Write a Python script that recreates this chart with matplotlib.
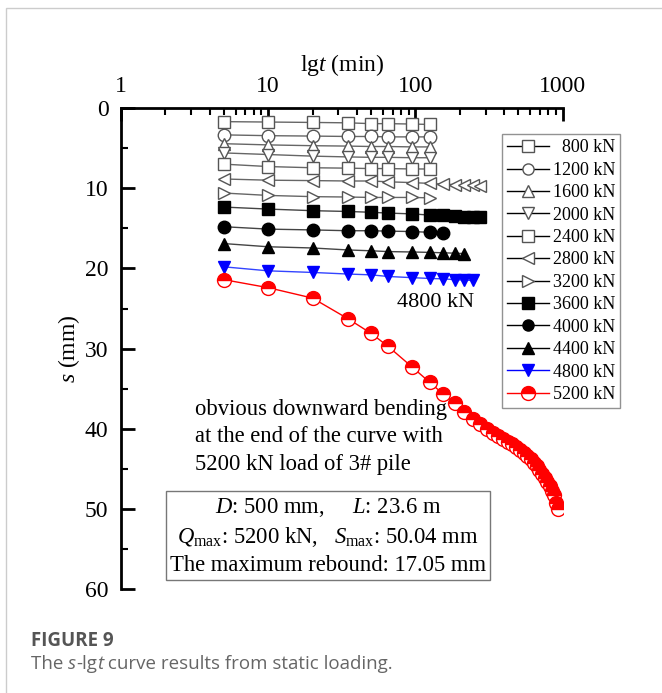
import matplotlib
matplotlib.use("Agg")
import matplotlib.pyplot as plt
from matplotlib.ticker import FixedLocator, NullFormatter, LogLocator
from matplotlib.lines import Line2D
from matplotlib.patches import Rectangle

plt.rcParams['font.family'] = ['Liberation Serif', 'DejaVu Serif']
plt.rcParams['mathtext.fontset'] = 'custom'
plt.rcParams['mathtext.rm'] = 'Liberation Serif'
plt.rcParams['mathtext.it'] = 'Liberation Serif:italic'
plt.rcParams['mathtext.bf'] = 'Liberation Serif:bold'

# ---------------- data ----------------
t8 = [5, 10, 20, 35, 50, 65, 95, 125]
t9 = t8 + [155]
t11 = t9 + [185, 215]
t12 = t11 + [245]
t13 = t12 + [275]
t5200 = t12 + [275, 305, 335, 365, 395, 425, 455, 485, 515, 545, 575, 605,
               635, 665, 695, 725, 755, 785, 815, 845, 875, 905, 935]

s800 = [1.7, 1.75, 1.8, 1.85, 1.95, 1.95, 2.0, 2.05]
s1200 = [3.35, 3.45, 3.5, 3.55, 3.55, 3.6, 3.6, 3.6]
s1600 = [4.45, 4.6, 4.7, 4.75, 4.8, 4.8, 4.85, 4.85]
s2000 = [5.6, 5.8, 6.0, 6.1, 6.15, 6.15, 6.2, 6.2]
s2400 = [7.0, 7.3, 7.45, 7.5, 7.55, 7.55, 7.6, 7.6]
s2800 = [8.85, 9.0, 9.05, 9.1, 9.1, 9.2, 9.3, 9.4, 9.5, 9.55, 9.6, 9.65, 9.7]
s3200 = [10.6, 10.9, 11.05, 11.1, 11.15, 11.15, 11.15, 11.2]
s3600 = [12.35, 12.6, 12.8, 12.9, 13.0, 13.1, 13.2, 13.35, 13.4, 13.5, 13.55, 13.55, 13.6]
s4000 = [14.8, 15.1, 15.2, 15.3, 15.3, 15.35, 15.4, 15.5, 15.55]
s4400 = [16.9, 17.3, 17.45, 17.7, 17.8, 17.9, 17.95, 18.0, 18.05, 18.1, 18.15]
s4800 = [19.8, 20.3, 20.5, 20.7, 20.8, 21.0, 21.15, 21.25, 21.3, 21.4, 21.45, 21.5]
s5200 = [21.4, 22.4, 23.7, 26.3, 28.1, 29.7, 32.3, 34.2, 35.7, 36.8, 37.9, 38.8,
         39.4, 40.0, 40.5, 40.9, 41.3, 41.6, 41.9, 42.3, 42.6, 43.0, 43.4, 43.8,
         44.2, 44.6, 45.1, 45.6, 46.1, 46.6, 47.1, 47.7, 48.3, 49.2, 50.04]

labels = ['  800 kN', '1200 kN', '1600 kN', '2000 kN', '2400 kN', '2800 kN',
          '3200 kN', '3600 kN', '4000 kN', '4400 kN', '4800 kN', '5200 kN']

x_ticks = [1, 10, 100, 1000]
x_ticklabels = ['1', '10', '100', '1000']
y_ticks = [0, 10, 20, 30, 40, 50, 60]

# ---------------- figure ----------------
fig = plt.figure(figsize=(6.62, 6.93), dpi=100)
fig.patches.append(Rectangle((6 / 662, -0.1), 2.0, (1 - 8 / 693) + 0.1,
                             transform=fig.transFigure, fill=False,
                             edgecolor='#cccccc', lw=1.0))

ax = fig.add_axes([121 / 662, 1 - 589.3 / 693, (562.7 - 121) / 662, (589.3 - 108) / 693])

open_edge = '#555555'
open_line = '#666666'
series = [
    (t8, s800, 's', 'open'),
    (t8, s1200, 'o', 'open'),
    (t8, s1600, '^', 'open'),
    (t8, s2000, 'v', 'open'),
    (t8, s2400, 's', 'open'),
    (t13, s2800, '<', 'open'),
    (t8, s3200, '>', 'open'),
    (t13, s3600, 's', 'black'),
    (t9, s4000, 'o', 'black'),
    (t11, s4400, '^', 'black'),
    (t12, s4800, 'v', 'blue'),
]

handles = []
for (tt, ss, mk, kind), lab in zip(series, labels):
    if kind == 'open':
        ax.plot(tt, ss, '-', color=open_line, lw=1.0, marker=mk, ms=9,
                mfc='white', mec=open_edge, mew=1.0, zorder=3)
        handles.append(Line2D([], [], color='black', lw=1.0, marker=mk, ms=8,
                              mfc='white', mec=open_edge, mew=1.0, label=lab))
    elif kind == 'black':
        ax.plot(tt, ss, '-', color='#444444', lw=1.0, marker=mk, ms=9,
                mfc='black', mec='black', zorder=3)
        handles.append(Line2D([], [], color='black', lw=1.0, marker=mk, ms=8,
                              mfc='black', mec='black', label=lab))
    else:
        ax.plot(tt, ss, '-', color='#3344ff', lw=1.0, marker=mk, ms=9,
                mfc='#0000ff', mec='#0000ff', zorder=3)
        handles.append(Line2D([], [], color='#0000ff', lw=1.0, marker=mk, ms=8,
                              mfc='#0000ff', mec='#0000ff', label=lab))

# 5200 kN: line, then each half-filled marker drawn one by one (so later markers cover earlier)
ax.plot(t5200, s5200, '-', color='#ff0000', lw=1.0, zorder=4)
for i, (tx, sy) in enumerate(zip(t5200, s5200)):
    ax.plot([tx], [sy], linestyle='none', marker='o', ms=10,
            fillstyle='top', mfc='#ff0000', mfcalt='white', mec='#ff0000',
            mew=1.0, zorder=4 + i * 0.001)
handles.append(Line2D([], [], color='#ff0000', lw=1.0, marker='o', ms=10,
                      fillstyle='top', mfc='#ff0000', mfcalt='white',
                      mec='#ff0000', mew=1.0, label=labels[11]))

ax.set_xscale('log')
ax.set_xlim(1, 1000)
ax.set_ylim(60, 0)

ax.xaxis.set_major_locator(FixedLocator(x_ticks))
ax.set_xticklabels(x_ticklabels)
ax.xaxis.set_minor_locator(LogLocator(base=10, subs=range(2, 10)))
ax.xaxis.set_minor_formatter(NullFormatter())
ax.xaxis.tick_top()
ax.xaxis.set_label_position('top')

ax.set_yticks(y_ticks)
ax.yaxis.set_minor_locator(FixedLocator([5, 15, 25, 35, 45, 55]))

for sp in ['right', 'bottom']:
    ax.spines[sp].set_visible(False)
for sp in ['left', 'top']:
    ax.spines[sp].set_linewidth(2.0)

ax.tick_params(axis='x', which='major', direction='in', length=9, width=2,
               labelsize=17, pad=8, top=True, bottom=False)
ax.tick_params(axis='x', which='minor', direction='in', length=5, width=1.5,
               top=True, bottom=False)
ax.tick_params(axis='y', which='major', direction='in', length=10, width=2,
               labelsize=17, pad=9, right=False)
ax.tick_params(axis='y', which='minor', direction='in', length=5, width=1.5,
               right=False)

ax.set_xlabel(r'lg$t$ (min)', fontsize=17, labelpad=3.5)
ax.set_ylabel(r'$s$ (mm)', fontsize=17, labelpad=2)

leg = ax.legend(handles=handles, loc='upper left',
                bbox_to_anchor=((502 - 121) / (562.7 - 121), 1 - (134 - 108) / (589.3 - 108)),
                frameon=True, fancybox=False, fontsize=13, handlelength=2.3,
                handletextpad=0.2, labelspacing=0.3, borderpad=0.3,
                borderaxespad=0)
leg.get_frame().set_edgecolor('#777777')
leg.get_frame().set_linewidth(1.0)
leg.set_zorder(5)

fig.text(436 / 662, 1 - 302 / 693, '4800 kN', ha='center', va='center', fontsize=16)

fig.text(195 / 662, 1 - 437 / 693,
         'obvious downward bending\nat the end of the curve with\n5200 kN load of 3# pile',
         ha='left', va='center', fontsize=16.3, linespacing=1.4)

fig.text(328 / 662, 1 - 536 / 693,
         r'$D$: 500 mm,     $L$: 23.6 m' + '\n' +
         r'$Q_{\rm max}$: 5200 kN,   $S_{\rm max}$: 50.04 mm' + '\n' +
         'The maximum rebound: 17.05 mm',
         ha='center', va='center', fontsize=16.3, linespacing=1.35,
         bbox=dict(boxstyle='square,pad=0.18', fc='white', ec='#777777', lw=1.0))

# caption
cap_font = ['Open Sans', 'DejaVu Sans']
fig.text(31 / 662, 1 - 641 / 693, 'FIGURE 9', ha='left', va='center',
         fontsize=13.5, fontweight='bold', color='#555555', family=cap_font)
t1 = fig.text(31 / 662, 1 - 664 / 693, 'The ', ha='left', va='center',
              fontsize=13.5, color='#666666', family=cap_font)
pieces = [('s', 'italic'), ('-lg', 'normal'), ('t', 'italic'),
          (' curve results from static loading.', 'normal')]
ann_prev = t1
for txt, st in pieces:
    ann_prev = ax.annotate(txt, xy=(1, 0), xycoords=ann_prev, xytext=(0, 0),
                           textcoords='offset points', ha='left', va='bottom',
                           fontsize=13.5, color='#666666', style=st,
                           family=cap_font, annotation_clip=False)

fig.savefig('out.png', dpi=100)
